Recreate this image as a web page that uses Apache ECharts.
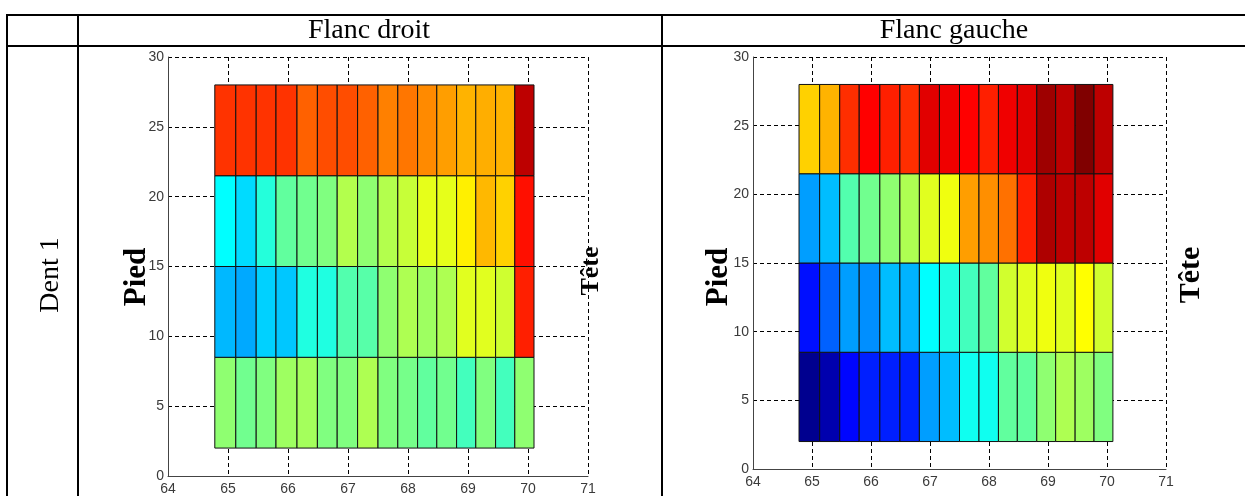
<!DOCTYPE html>
<html><head><meta charset="utf-8">
<script src="https://cdn.jsdelivr.net/npm/echarts@6/dist/echarts.min.js"></script>
<style>html,body{margin:0;padding:0;background:#fff}#c{width:1245px;height:496px}</style>
</head><body><div id="c"></div>
<script>
// Column and band edges of the patches (axis units)
const xEdges = [64.78, 65.13, 65.47, 65.80, 66.15, 66.49, 66.82, 67.16, 67.50, 67.83, 68.16, 68.48, 68.81, 69.13, 69.46, 69.78, 70.10];
const yEdges = [2, 8.5, 15, 21.5, 28];

// Normalised values (jet colour index 0..1), bands from bottom (Pied side) to top
const droitBand1 = [0.515, 0.485, 0.50, 0.53, 0.535, 0.50, 0.50, 0.545, 0.50, 0.49, 0.47, 0.485, 0.44, 0.50, 0.44, 0.515];
const droitBand2 = [0.305, 0.29, 0.33, 0.32, 0.405, 0.405, 0.455, 0.46, 0.515, 0.545, 0.53, 0.545, 0.595, 0.595, 0.578, 0.845];
const droitBand3 = [0.375, 0.34, 0.41, 0.47, 0.485, 0.50, 0.55, 0.515, 0.55, 0.57, 0.60, 0.60, 0.64, 0.695, 0.67, 0.86];
const droitBand4 = [0.825, 0.825, 0.825, 0.825, 0.78, 0.80, 0.80, 0.78, 0.75, 0.76, 0.74, 0.72, 0.70, 0.705, 0.70, 0.94];

const gaucheBand1 = [0.015, 0.045, 0.13, 0.155, 0.155, 0.155, 0.28, 0.31, 0.39, 0.39, 0.47, 0.47, 0.515, 0.545, 0.53, 0.50];
const gaucheBand2 = [0.14, 0.22, 0.28, 0.265, 0.31, 0.30, 0.375, 0.405, 0.44, 0.47, 0.58, 0.595, 0.61, 0.595, 0.625, 0.58];
const gaucheBand3 = [0.28, 0.31, 0.455, 0.485, 0.515, 0.545, 0.595, 0.61, 0.72, 0.735, 0.765, 0.845, 0.955, 0.94, 0.94, 0.905];
const gaucheBand4 = [0.67, 0.70, 0.83, 0.875, 0.845, 0.83, 0.905, 0.89, 0.875, 0.845, 0.89, 0.905, 0.97, 0.94, 1.0, 0.94];

const panelTitles = ['Flanc droit', 'Flanc gauche'];
const rowTitle = 'Dent 1';

const jet = ['#000080', '#0000ff', '#0080ff', '#00ffff', '#80ff80', '#ffff00', '#ff8000', '#ff0000', '#800000'];

function cells(bands) {
  const out = [];
  bands.forEach((vals, r) => vals.forEach((v, c) => {
    out.push([xEdges[c], yEdges[r], xEdges[c + 1], yEdges[r + 1], v]);
  }));
  return out;
}

function renderItem(params, api) {
  const p0 = api.coord([api.value(0), api.value(3)]);
  const p1 = api.coord([api.value(2), api.value(1)]);
  return {
    type: 'rect',
    shape: { x: p0[0], y: p0[1], width: p1[0] - p0[0], height: p1[1] - p0[1] },
    style: { fill: api.visual('color'), stroke: '#111', lineWidth: 1 }
  };
}

const gridLine = { show: true, lineStyle: { color: '#000', width: 1, type: [4, 3] } };
const axisLab = { color: '#3a3a3a', fontSize: 14, fontFamily: 'Liberation Sans, Arial, sans-serif' };

function xAx(i) {
  return { type: 'value', gridIndex: i, min: 64, max: 71, interval: 1,
    axisLine: { show: true, onZero: false, lineStyle: { color: '#444', width: 1 } },
    axisTick: { show: false }, splitLine: gridLine,
    axisLabel: Object.assign({ margin: 6 }, axisLab) };
}
function yAx(i) {
  return { type: 'value', gridIndex: i, min: 0, max: 30, interval: 5,
    axisLine: { show: true, onZero: false, lineStyle: { color: '#444', width: 1 } },
    axisTick: { show: false }, splitLine: gridLine,
    axisLabel: Object.assign({ margin: 4 }, axisLab) };
}

function line(x1, y1, x2, y2) {
  return { type: 'line', z: 100, shape: { x1, y1, x2, y2 }, style: { stroke: '#000', lineWidth: 2 } };
}
function txt(t, x, y, size, bold, rot) {
  return { type: 'text', z: 101, x, y, rotation: rot || 0,
    style: { text: t, fill: '#000', fontSize: size, fontWeight: bold ? 'bold' : 'normal',
      fontFamily: 'Liberation Serif, Times New Roman, serif', align: 'center', verticalAlign: 'middle' } };
}

const chart = echarts.init(document.getElementById('c'), null, { renderer: 'canvas' });
chart.setOption({
  backgroundColor: '#fff',
  animation: false,
  grid: [
    { left: 168, top: 57, width: 420, height: 420 },
    { left: 753, top: 57, width: 413, height: 412 }
  ],
  xAxis: [xAx(0), xAx(1)],
  yAxis: [yAx(0), yAx(1)],
  visualMap: { type: 'continuous', show: false, min: 0, max: 1, dimension: 4, seriesIndex: [0, 1], inRange: { color: jet } },
  series: [
    { type: 'custom', xAxisIndex: 0, yAxisIndex: 0, renderItem, encode: { x: [0, 2], y: [1, 3] },
      data: cells([droitBand1, droitBand2, droitBand3, droitBand4]) },
    { type: 'custom', xAxisIndex: 1, yAxisIndex: 1, renderItem, encode: { x: [0, 2], y: [1, 3] },
      data: cells([gaucheBand1, gaucheBand2, gaucheBand3, gaucheBand4]) }
  ],
  graphic: [
    line(6, 15, 1245, 15), line(6, 46, 1245, 46),
    line(7, 14, 7, 496), line(78, 14, 78, 496), line(662, 14, 662, 496),
    txt(panelTitles[0], 369, 31, 28, false),
    txt(panelTitles[1], 954, 31, 28, false),
    txt(rowTitle, 51, 275, 28, false, Math.PI / 2),
    txt('Pied', 137, 277, 31, true, Math.PI / 2),
    txt('Tête', 591, 271, 26, true, Math.PI / 2),
    txt('Pied', 719, 277, 31, true, Math.PI / 2),
    txt('Tête', 1191, 275, 30, true, Math.PI / 2)
  ]
});
</script></body></html>
